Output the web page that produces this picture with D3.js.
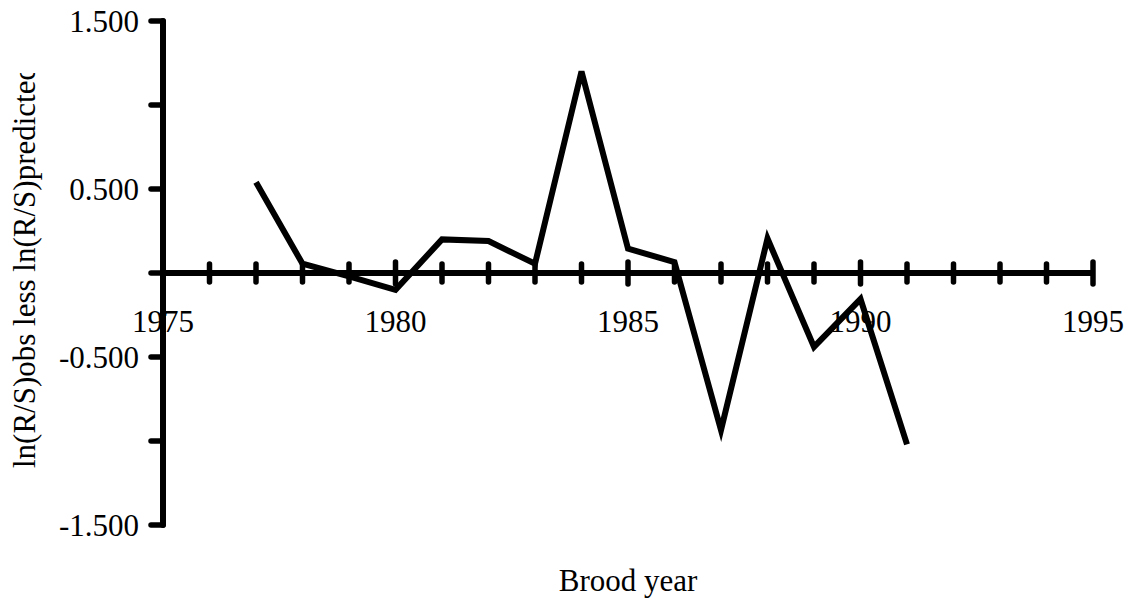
<!DOCTYPE html>
<html><head><meta charset="utf-8">
<script src="https://cdn.jsdelivr.net/npm/d3@7"></script>
<style>
html,body{margin:0;padding:0;background:#fff;}
text{font-family:"Liberation Serif","Times New Roman",serif;fill:#000;}
</style></head>
<body>
<svg id="chart" width="1131" height="598"></svg>
<script>
const years = [1977,1978,1979,1980,1981,1982,1983,1984,1985,1986,1987,1988,1989,1990,1991];
const residuals = [0.54,0.055,-0.02,-0.10,0.20,0.19,0.055,1.20,0.145,0.065,-0.935,0.205,-0.44,-0.155,-1.02];
const xTickYears = d3.range(1975, 1996, 1);
const xLabelYears = [1975,1980,1985,1990,1995];
const yTickValues = [1.5,1.0,0.5,0,-0.5,-1.0,-1.5];
const yLabelValues = [1.5,0.5,-0.5,-1.5];
const xTitle = "Brood year";
const yTitle = "ln(R/S)obs less ln(R/S)predicted";

const svg = d3.select("#chart");
const x = d3.scaleLinear().domain([1975,1995]).range([163,1093]);
const y = d3.scaleLinear().domain([-1.5,1.5]).range([525,21]);
const fmt = d => d3.format(".3f")(d).replace("\u2212","-");
const FS = 31;
const FF = "Liberation Serif, Times New Roman, serif";

// y axis line
svg.append("line").attr("x1",x(1975)).attr("x2",x(1975)).attr("y1",y(1.5)).attr("y2",y(-1.5))
  .attr("stroke","#000").attr("stroke-width",6).attr("stroke-linecap","round");
// y ticks
svg.selectAll(".yt").data(yTickValues).enter().append("line")
  .attr("x1",x(1975)-12).attr("x2",x(1975)).attr("y1",d=>y(d)).attr("y2",d=>y(d))
  .attr("stroke","#000").attr("stroke-width",5.5).attr("stroke-linecap","round");
svg.selectAll(".yl").data(yLabelValues).enter().append("text")
  .attr("x",139).attr("y",d=>y(d)+11).attr("text-anchor","end")
  .attr("font-family",FF).attr("font-size",FS).text(d=>fmt(d));

// x axis line
svg.append("line").attr("x1",x(1975)).attr("x2",x(1995)).attr("y1",y(0)).attr("y2",y(0))
  .attr("stroke","#000").attr("stroke-width",6);
svg.selectAll(".xt").data(xTickYears).enter().append("line")
  .attr("x1",d=>x(d)).attr("x2",d=>x(d))
  .attr("y1",d=>y(0)-(d%5===0?11:9)).attr("y2",d=>y(0)+(d%5===0?11:9))
  .attr("stroke","#000").attr("stroke-width",5.5).attr("stroke-linecap","round");
svg.selectAll(".xl").data(xLabelYears).enter().append("text")
  .attr("x",d=>x(d)).attr("y",332).attr("text-anchor","middle")
  .attr("font-family",FF).attr("font-size",FS).text(d=>d);

// data line
const line = d3.line().x((d,i)=>x(years[i])).y(d=>y(d));
svg.append("path").datum(residuals).attr("d",line)
  .attr("fill","none").attr("stroke","#000").attr("stroke-width",6)
  .attr("stroke-linejoin","miter").attr("stroke-miterlimit",4);

// titles
svg.append("text").attr("x",628).attr("y",591).attr("text-anchor","middle")
  .attr("font-family",FF).attr("font-size",FS).text(xTitle);
svg.append("clipPath").attr("id","yclip").append("rect")
  .attr("x",0).attr("y",73).attr("width",80).attr("height",500);
svg.append("g").attr("clip-path","url(#yclip)").append("text")
  .attr("transform","translate(35,468) rotate(-90)")
  .attr("text-anchor","start").attr("font-family",FF).attr("font-size",FS).text(yTitle);
</script>
</body></html>
